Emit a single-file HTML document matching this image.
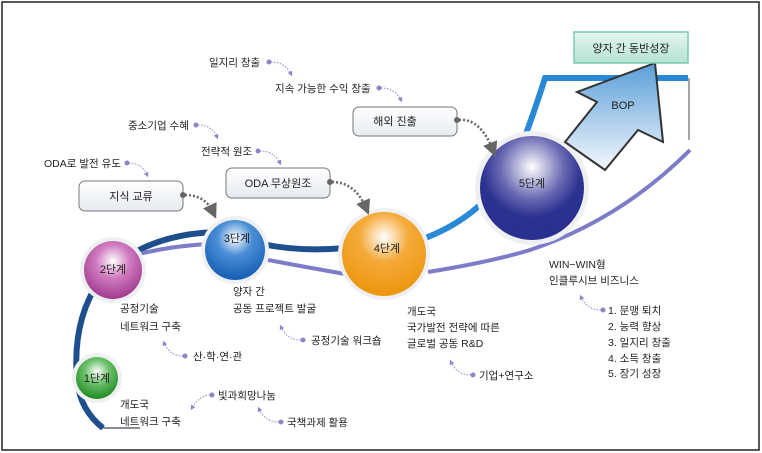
<!DOCTYPE html>
<html><head><meta charset="utf-8"><style>
html,body{margin:0;padding:0;background:#fff}
svg{display:block}
text{font-family:"Liberation Sans","Noto Sans CJK KR",sans-serif;fill:#222}
</style></head><body>
<svg width="762" height="453" viewBox="0 0 762 453" xmlns="http://www.w3.org/2000/svg">
<defs>
<radialGradient id="gG" cx="50%" cy="35%" r="65%"><stop offset="0" stop-color="#fff"/><stop offset="0.45" stop-color="#6cc06a"/><stop offset="1" stop-color="#1e8a22"/></radialGradient>
<radialGradient id="gM" cx="50%" cy="35%" r="65%"><stop offset="0" stop-color="#fff"/><stop offset="0.45" stop-color="#d07ac0"/><stop offset="1" stop-color="#a03a90"/></radialGradient>
<radialGradient id="gB" cx="50%" cy="30%" r="65%"><stop offset="0" stop-color="#fff"/><stop offset="0.45" stop-color="#4a8ed6"/><stop offset="1" stop-color="#1a64b8"/></radialGradient>
<radialGradient id="gO" cx="50%" cy="30%" r="65%"><stop offset="0" stop-color="#fff"/><stop offset="0.45" stop-color="#f4aa3a"/><stop offset="1" stop-color="#ee9812"/></radialGradient>
<radialGradient id="gN" cx="50%" cy="30%" r="60%"><stop offset="0" stop-color="#fff"/><stop offset="0.5" stop-color="#6b6bb4"/><stop offset="0.8" stop-color="#2c3290"/><stop offset="1" stop-color="#2a3090"/></radialGradient>
<linearGradient id="box" x1="0" y1="0" x2="0" y2="1"><stop offset="0" stop-color="#fff"/><stop offset="1" stop-color="#e6eaf0"/></linearGradient>
<linearGradient id="teal" x1="0" y1="0" x2="0" y2="1"><stop offset="0" stop-color="#e6f6f0"/><stop offset="1" stop-color="#b4e2d2"/></linearGradient>
<linearGradient id="arr" x1="0" y1="0" x2="0" y2="1"><stop offset="0" stop-color="#5a9ed8"/><stop offset="1" stop-color="#f4f8fc"/></linearGradient>
<marker id="ah" markerWidth="6" markerHeight="6" refX="3" refY="3" orient="auto"><path d="M0,0 L6,3 L0,6z" fill="#666"/></marker>
<marker id="ap" markerWidth="5" markerHeight="5" refX="2.5" refY="2.5" orient="auto"><path d="M0,0 L5,2.5 L0,5z" fill="#8a86c8"/></marker>
</defs>
<rect x="2" y="2" width="757" height="448" fill="#fff" stroke="#222" stroke-width="1.5"/>

<!-- main dark blue path -->
<path d="M103,428 Q80,410 77,380 Q72,320 100,280 Q140,235 215,232" fill="none" stroke="#1e4e8c" stroke-width="6"/>
<path d="M262,244 Q300,252 345,248" fill="none" stroke="#1e4e8c" stroke-width="6"/>
<path d="M103,428 L140,428" stroke="#667" stroke-width="1.5"/>
<!-- bright blue -->
<path d="M420,240 Q490,215 520,150 Q535,110 545,78 L688,78" fill="none" stroke="#2a88d8" stroke-width="6"/>
<path d="M689,78 L689,140" stroke="#888" stroke-width="1.5"/>
<!-- light purple -->
<path d="M135,255 Q170,246 208,244" fill="none" stroke="#7c7cc8" stroke-width="4"/>
<path d="M268,260 Q300,266 345,274" fill="none" stroke="#7c7cc8" stroke-width="4"/>
<path d="M428,272 Q490,262 530,250 Q620,220 690,150" fill="none" stroke="#7c7cc8" stroke-width="4"/>

<!-- circles -->
<circle cx="97" cy="378" r="25" fill="#eef0f2"/><circle cx="97" cy="378" r="21" fill="url(#gG)"/>
<circle cx="113" cy="270" r="33" fill="#eef0f2"/><circle cx="113" cy="270" r="29" fill="url(#gM)"/>
<circle cx="235" cy="250" r="34" fill="#eef0f2"/><circle cx="235" cy="250" r="30" fill="url(#gB)"/>
<circle cx="384" cy="254" r="46" fill="#eef0f2"/><circle cx="384" cy="254" r="42" fill="url(#gO)"/>
<circle cx="532" cy="188" r="57" fill="#eef0f2"/><circle cx="532" cy="188" r="52" fill="url(#gN)"/>
<text x="97" y="382" font-size="11" text-anchor="middle">1단계</text>
<text x="113" y="273" font-size="11" text-anchor="middle">2단계</text>
<text x="237" y="242" font-size="11" text-anchor="middle">3단계</text>
<text x="387" y="252" font-size="11" text-anchor="middle">4단계</text>
<text x="532" y="187" font-size="11" text-anchor="middle">5단계</text>

<!-- arrow BOP -->
<polygon points="655,63 663,142 638,130 605,170 565,142 597,102 577,92" fill="url(#arr)" stroke="#333" stroke-width="2"/>
<text x="623" y="109" font-size="11" text-anchor="middle">BOP</text>

<!-- boxes -->
<rect x="574" y="32" width="114" height="31" fill="url(#teal)" stroke="#7cc8b0" stroke-width="1.5"/>
<text x="631" y="52" font-size="11" text-anchor="middle">양자 간 동반성장</text>
<rect x="79" y="181" width="104" height="30" rx="6" fill="url(#box)" stroke="#777"/>
<text x="131" y="200" font-size="11" text-anchor="middle">지식 교류</text>
<rect x="226" y="168" width="104" height="30" rx="6" fill="url(#box)" stroke="#777"/>
<text x="278" y="187" font-size="11" text-anchor="middle">ODA 무상원조</text>
<rect x="353" y="107" width="104" height="29" rx="6" fill="url(#box)" stroke="#777"/>
<text x="395" y="125" font-size="11" text-anchor="middle">해외 진출</text>

<!-- dotted gray connectors -->
<g fill="#666"><circle cx="183" cy="195" r="3"/><circle cx="330" cy="182" r="3"/><circle cx="457" cy="120" r="3"/></g>
<g fill="none" stroke="#666" stroke-width="2.5" stroke-dasharray="2,2">
<path d="M185,195 Q205,195 213,212" marker-end="url(#ah)"/>
<path d="M332,182 Q355,182 366,208" marker-end="url(#ah)"/>
<path d="M459,120 Q480,118 493,150" marker-end="url(#ah)"/>
</g>

<!-- purple small connectors -->
<g fill="#8a86c8"><circle cx="127" cy="163" r="2.5"/><circle cx="196" cy="125" r="2.5"/><circle cx="258" cy="151" r="2.5"/><circle cx="269" cy="62" r="2.5"/><circle cx="379" cy="88" r="2.5"/>
<circle cx="185" cy="356" r="2.5"/><circle cx="303" cy="340" r="2.5"/><circle cx="212" cy="395" r="2.5"/><circle cx="281" cy="422" r="2.5"/><circle cx="473" cy="375" r="2.5"/><circle cx="603" cy="310" r="2.5"/></g>
<g fill="none" stroke="#8a86c8" stroke-width="1" stroke-dasharray="1.5,1.5">
<path d="M129,163 Q142,163 147,175" marker-end="url(#ap)"/>
<path d="M198,125 Q212,125 217,137" marker-end="url(#ap)"/>
<path d="M260,151 Q274,151 280,163" marker-end="url(#ap)"/>
<path d="M271,62 Q285,62 291,74" marker-end="url(#ap)"/>
<path d="M381,88 Q395,88 401,100" marker-end="url(#ap)"/>
<path d="M183,356 Q170,356 164,343" marker-end="url(#ap)"/>
<path d="M301,340 Q287,340 281,327" marker-end="url(#ap)"/>
<path d="M210,395 Q200,395 192,408" marker-end="url(#ap)"/>
<path d="M279,422 Q265,422 259,409" marker-end="url(#ap)"/>
<path d="M471,375 Q457,375 451,362" marker-end="url(#ap)"/>
<path d="M601,310 Q587,310 581,297" marker-end="url(#ap)"/>
</g>

<!-- labels -->
<g font-size="10.5">
<text x="44" y="167">ODA로 발전 유도</text>
<text x="128" y="129">중소기업 수혜</text>
<text x="201" y="155">전략적 원조</text>
<text x="209" y="66">일지리 창출</text>
<text x="275" y="92">지속 가능한 수익 창출</text>
<text x="120" y="312">공정기술</text>
<text x="120" y="330">네트워크 구축</text>
<text x="193" y="360">산·학·연·관</text>
<text x="120" y="408">개도국</text>
<text x="120" y="425">네트워크 구축</text>
<text x="218" y="399">빛과희망나눔</text>
<text x="287" y="426">국책과제 활용</text>
<text x="233" y="295">양자 간</text>
<text x="233" y="312">공동 프로젝트 발굴</text>
<text x="311" y="344">공정기술 워크숍</text>
<text x="407" y="315">개도국</text>
<text x="407" y="331">국가발전 전략에 따른</text>
<text x="407" y="347">글로벌 공동 R&amp;D</text>
<text x="479" y="379">기업+연구소</text>
<text x="549" y="268">WIN−WIN형</text>
<text x="549" y="284">인클루시브 비즈니스</text>
<text x="608" y="314">1. 문맹 퇴치</text>
<text x="608" y="330">2. 능력 향상</text>
<text x="608" y="346">3. 일지리 창출</text>
<text x="608" y="362">4. 소득 창출</text>
<text x="608" y="377">5. 장기 성장</text>
</g>
</svg>
</body></html>
